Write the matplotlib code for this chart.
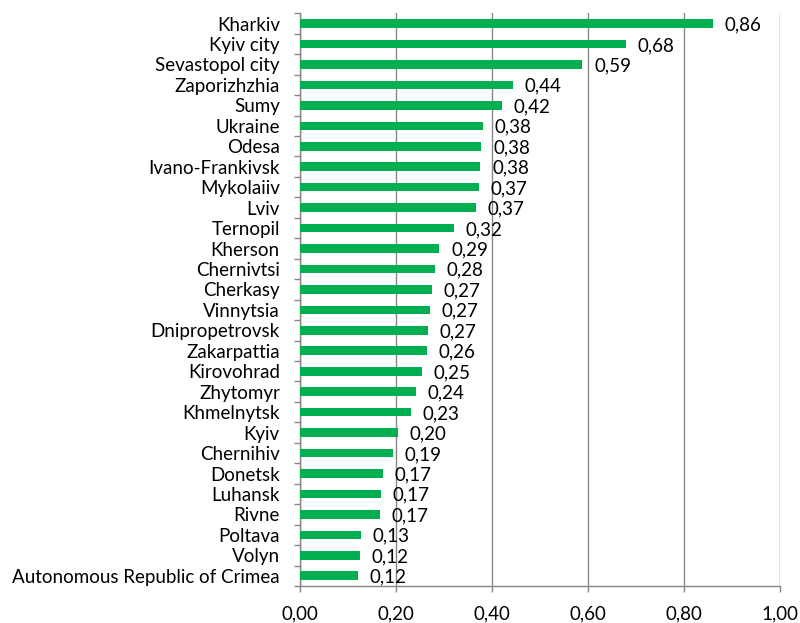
import matplotlib
matplotlib.use("Agg")
import matplotlib.pyplot as plt
import numpy as np

categories = ["Kharkiv", "Kyiv city", "Sevastopol city", "Zaporizhzhia", "Sumy", "Ukraine",
              "Odesa", "Ivano-Frankivsk", "Mykolaiiv", "Lviv", "Ternopil", "Kherson",
              "Chernivtsi", "Cherkasy", "Vinnytsia", "Dnipropetrovsk", "Zakarpattia",
              "Kirovohrad", "Zhytomyr", "Khmelnytsk", "Kyiv", "Chernihiv", "Donetsk",
              "Luhansk", "Rivne", "Poltava", "Volyn", "Autonomous Republic of Crimea"]
values = [0.860, 0.679, 0.588, 0.444, 0.421, 0.381, 0.378, 0.376, 0.373, 0.367, 0.321,
          0.290, 0.281, 0.274, 0.271, 0.266, 0.264, 0.254, 0.242, 0.231, 0.204, 0.194,
          0.172, 0.168, 0.167, 0.127, 0.124, 0.120]
xticks = [0.0, 0.2, 0.4, 0.6, 0.8, 1.0]

plt.rcParams['font.family'] = ['Lato', 'DejaVu Sans']
FS = 13.5
GRAY = '#868686'
GREEN = '#00B050'

fig = plt.figure(figsize=(8, 6.23), dpi=100)
ax = fig.add_axes([0.375, 0.0594, 0.6, 0.9192])

n = len(categories)
y = np.arange(n)
ax.barh(y, values, height=0.42, color=GREEN, zorder=3)
ax.set_ylim(n - 0.5, -0.5)
ax.set_xlim(0, 1.0)

for yi, v in zip(y, values):
    ax.annotate(f"{v:.2f}".replace('.', ','), xy=(v, yi), xytext=(8.5, -1),
                textcoords='offset points', ha='left', va='center', fontsize=FS,
                color='black', zorder=4)

ax.set_yticks(y)
ax.set_yticklabels(categories, fontsize=FS)
ax.set_yticks(np.arange(-0.5, n, 1.0), minor=True)
ax.tick_params(axis='y', which='major', length=0, pad=14.5)
ax.tick_params(axis='y', which='minor', length=4.3, color=GRAY, width=1)

ax.set_xticks(xticks)
ax.set_xticklabels([f"{t:.2f}".replace('.', ',') for t in xticks], fontsize=FS)
ax.tick_params(axis='x', which='major', length=4, color=GRAY, width=1, pad=10)

ax.grid(axis='x', color=GRAY, linewidth=1, zorder=0)
for s in ['top', 'right']:
    ax.spines[s].set_visible(False)
for s in ['left', 'bottom']:
    ax.spines[s].set_color(GRAY)
    ax.spines[s].set_linewidth(1)

fig.savefig("out.png", dpi=100)
